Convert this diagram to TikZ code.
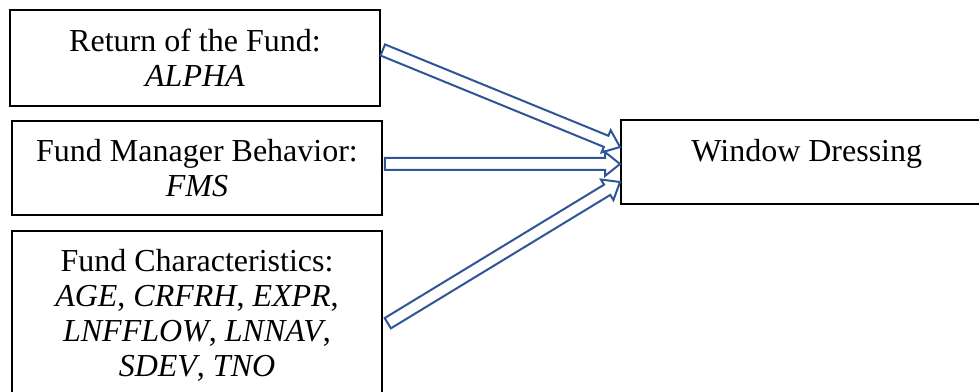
\documentclass[tikz,border=0pt]{standalone}
\usepackage{fontspec}
\setmainfont{Liberation Serif}
\usetikzlibrary{positioning,calc}
\definecolor{wdblue}{RGB}{47,85,151}
\tikzset{
  wd/.style={font=\fontsize{32}{35}\selectfont},
  wdbox/.style={wd, draw=black, line width=1.6pt, align=center,
    inner sep=0pt, minimum width=370pt},
  % hollow block arrow from start to target
  wdarr/.style={draw=wdblue, line width=2pt, line join=miter,
    to path={
      let \p1=(\tikztostart), \p2=(\tikztotarget),
          \n1={atan2(\y2-\y1,\x2-\x1)} in
      ($(\p1)+({\n1+90}:6pt)$) -- ($(\p2)!15pt!(\p1)+({\n1+90}:6pt)$)
      -- ($(\p2)!15pt!(\p1)+({\n1+90}:12pt)$) -- (\p2)
      -- ($(\p2)!15pt!(\p1)+({\n1-90}:12pt)$)
      -- ($(\p2)!15pt!(\p1)+({\n1-90}:6pt)$)
      -- ($(\p1)+({\n1-90}:6pt)$) -- cycle
    }},
}

\begin{document}
\begin{tikzpicture}[x=1pt, y=1pt]
  \useasboundingbox (0,0) rectangle (979,391);
  \clip (0,0) rectangle (979,391);

  \node[wdbox, minimum height=96pt] (ret) at (195,333) {Return of the Fund:\\\textit{ALPHA}};
  \node[wdbox, minimum height=94pt, below=13.4pt of ret, xshift=2pt] (fmb) {Fund Manager Behavior:\\\textit{FMS}};
  \node[wdbox, minimum height=169pt, below=14.4pt of fmb] (chr) {Fund Characteristics:\\\textit{AGE}, \textit{CRFRH}, \textit{EXPR},\\\textit{LNFFLOW}, \textit{LNNAV},\\\textit{SDEV}, \textit{TNO}};
  \node[wdbox, minimum width=372pt, text height=42pt, text depth=42pt, anchor=west] (win) at (620,229) {Window Dressing};

  \draw[wdarr] ([shift={(2pt,8pt)}]ret.east) to ([yshift=15pt]win.west);
  \draw[wdarr] ([shift={(2pt,4pt)}]fmb.east) to ([yshift=-2pt]win.west);
  \draw[wdarr] ([shift={(5pt,-93pt)}]chr.north east) to ([yshift=-20pt]win.west);
\end{tikzpicture}
\end{document}
